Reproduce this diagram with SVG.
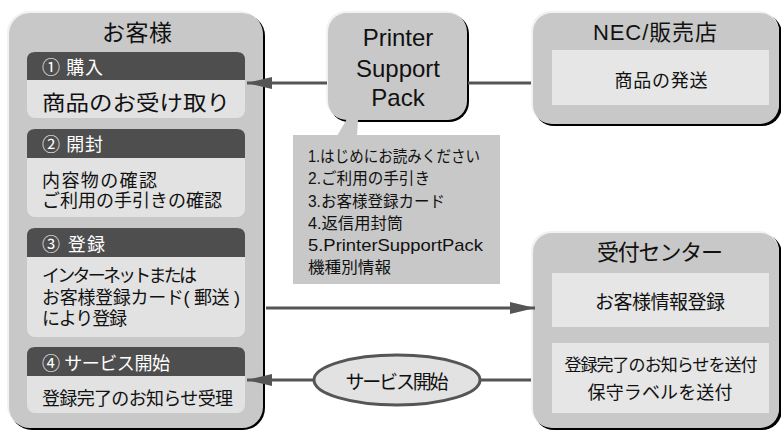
<svg xmlns="http://www.w3.org/2000/svg" width="781" height="431" viewBox="0 0 781 431">
<style>
.t{font-family:'Liberation Sans','Noto Sans CJK JP',sans-serif;fill:#111}
.w{fill:#fff}
.sh{fill:#000}
.hl{fill:#f2f2f2}
.bx{fill:#c8c8c8}
.body{fill:#e2e2e2}
.hd{fill:#4e4e4e}
.in{fill:#e6e6e6}
.ln{stroke:#555;stroke-width:3;fill:none}
</style>
<defs>
<marker id="ah" viewBox="0 0 25 12" refX="25" refY="6" markerWidth="25" markerHeight="12" markerUnits="userSpaceOnUse" orient="auto">
<path d="M0,0 L25,6 L0,12 z" fill="#555"/>
</marker>
</defs>
<rect width="781" height="431" fill="#fff"/>

<g id="customer">
<rect class="sh" x="10" y="14" width="255" height="416" rx="22"/>
<rect class="hl" x="7" y="11" width="255" height="416" rx="22"/>
<rect class="bx" x="9" y="13" width="254" height="415" rx="21"/>
<text class="t" x="137" y="41" font-size="23" text-anchor="middle" textLength="70">お客様</text>

<rect class="body" x="27" y="52" width="218" height="66" rx="8"/>
<path class="hd" d="M27,80 V60 Q27,52 35,52 H237 Q245,52 245,60 V80 z"/>
<text class="t w" x="42" y="74" font-size="18" textLength="61">① 購入</text>
<text class="t" x="42" y="110" font-size="21" textLength="188" lengthAdjust="spacingAndGlyphs">商品のお受け取り</text>

<rect class="body" x="27" y="129" width="218" height="88" rx="8"/>
<path class="hd" d="M27,158 V137 Q27,129 35,129 H237 Q245,129 245,137 V158 z"/>
<text class="t w" x="42" y="151" font-size="18" textLength="61">② 開封</text>
<text class="t" x="42" y="187" font-size="18" textLength="115">内容物の確認</text>
<text class="t" x="42" y="207" font-size="18" textLength="180">ご利用の手引きの確認</text>

<rect class="body" x="27" y="228" width="218" height="109" rx="8"/>
<path class="hd" d="M27,257 V236 Q27,228 35,228 H237 Q245,228 245,236 V257 z"/>
<text class="t w" x="42" y="251" font-size="18" textLength="63">③ 登録</text>
<text class="t" x="42" y="282" font-size="18" textLength="155">インターネットまたは</text>
<text class="t" x="42" y="304" font-size="18" textLength="198">お客様登録カード( 郵送 )</text>
<text class="t" x="42" y="325" font-size="18" textLength="85">により登録</text>

<rect class="body" x="27" y="347" width="218" height="66" rx="8"/>
<path class="hd" d="M27,376 V355 Q27,347 35,347 H237 Q245,347 245,355 V376 z"/>
<text class="t w" x="42" y="370" font-size="18" textLength="128">④ サービス開始</text>
<text class="t" x="42" y="405" font-size="18" textLength="191">登録完了のお知らせ受理</text>
</g>

<g id="psp">
<rect class="sh" x="329" y="14" width="140" height="108" rx="20"/>
<rect class="hl" x="326" y="11" width="140" height="108" rx="20"/>
<rect class="bx" x="328" y="13" width="139" height="107" rx="19"/>
<text class="t" x="398" y="46" font-size="24" text-anchor="middle">Printer</text>
<text class="t" x="398" y="77" font-size="24" text-anchor="middle">Support</text>
<text class="t" x="398" y="106" font-size="24" text-anchor="middle">Pack</text>
</g>

<g id="contents">
<polygon class="bx" points="337,136 357,136 359,104 351,112"/>
<rect class="bx" x="293" y="135" width="207" height="149"/>
<text class="t" x="308" y="162" font-size="16" textLength="172" lengthAdjust="spacingAndGlyphs">1.はじめにお読みください</text>
<text class="t" x="308" y="184" font-size="16" textLength="122" lengthAdjust="spacingAndGlyphs">2.ご利用の手引き</text>
<text class="t" x="308" y="207" font-size="16" textLength="137" lengthAdjust="spacingAndGlyphs">3.お客様登録カード</text>
<text class="t" x="308" y="229" font-size="16" textLength="95" lengthAdjust="spacingAndGlyphs">4.返信用封筒</text>
<text class="t" x="308" y="251" font-size="17" textLength="175" lengthAdjust="spacingAndGlyphs">5.PrinterSupportPack</text>
<text class="t" x="308" y="273" font-size="16" textLength="83" lengthAdjust="spacingAndGlyphs">機種別情報</text>
</g>

<g id="nec">
<rect class="sh" x="534" y="14" width="248" height="112" rx="20"/>
<rect class="hl" x="531" y="11" width="248" height="112" rx="20"/>
<rect class="bx" x="533" y="13" width="246" height="111" rx="19"/>
<text class="t" x="655" y="40" font-size="22" text-anchor="middle" textLength="124">NEC/販売店</text>
<rect class="in" x="552" y="50" width="217" height="55"/>
<text class="t" x="661" y="87" font-size="18" text-anchor="middle" textLength="93">商品の発送</text>
</g>

<g id="center">
<rect class="sh" x="534" y="234" width="248" height="196" rx="20"/>
<rect class="hl" x="531" y="231" width="248" height="196" rx="20"/>
<rect class="bx" x="533" y="233" width="246" height="195" rx="19"/>
<text class="t" x="660" y="260" font-size="22" text-anchor="middle" textLength="126">受付センター</text>
<rect class="in" x="552" y="273" width="217" height="54"/>
<text class="t" x="660" y="309" font-size="19" text-anchor="middle" textLength="130">お客様情報登録</text>
<rect class="in" x="552" y="343" width="217" height="70"/>
<text class="t" x="661" y="371" font-size="17" text-anchor="middle" textLength="193">登録完了のお知らせを送付</text>
<text class="t" x="660" y="399" font-size="18" text-anchor="middle" textLength="145">保守ラベルを送付</text>
</g>

<g id="connectors">
<line class="ln" x1="327" y1="83" x2="247" y2="83" marker-end="url(#ah)"/>
<line class="ln" x1="468" y1="83" x2="531" y2="83"/>
<line class="ln" x1="266" y1="308" x2="535" y2="308" marker-end="url(#ah)"/>
<line class="ln" x1="531" y1="380" x2="480" y2="380"/>
<line class="ln" x1="314" y1="380" x2="247" y2="380" marker-end="url(#ah)"/>
</g>

<g id="service-start">
<ellipse cx="397" cy="380" rx="83" ry="25" fill="#e2e2e2" stroke="#555" stroke-width="3"/>
<text class="t" x="397" y="389" font-size="19" text-anchor="middle" textLength="103">サービス開始</text>
</g>
</svg>
